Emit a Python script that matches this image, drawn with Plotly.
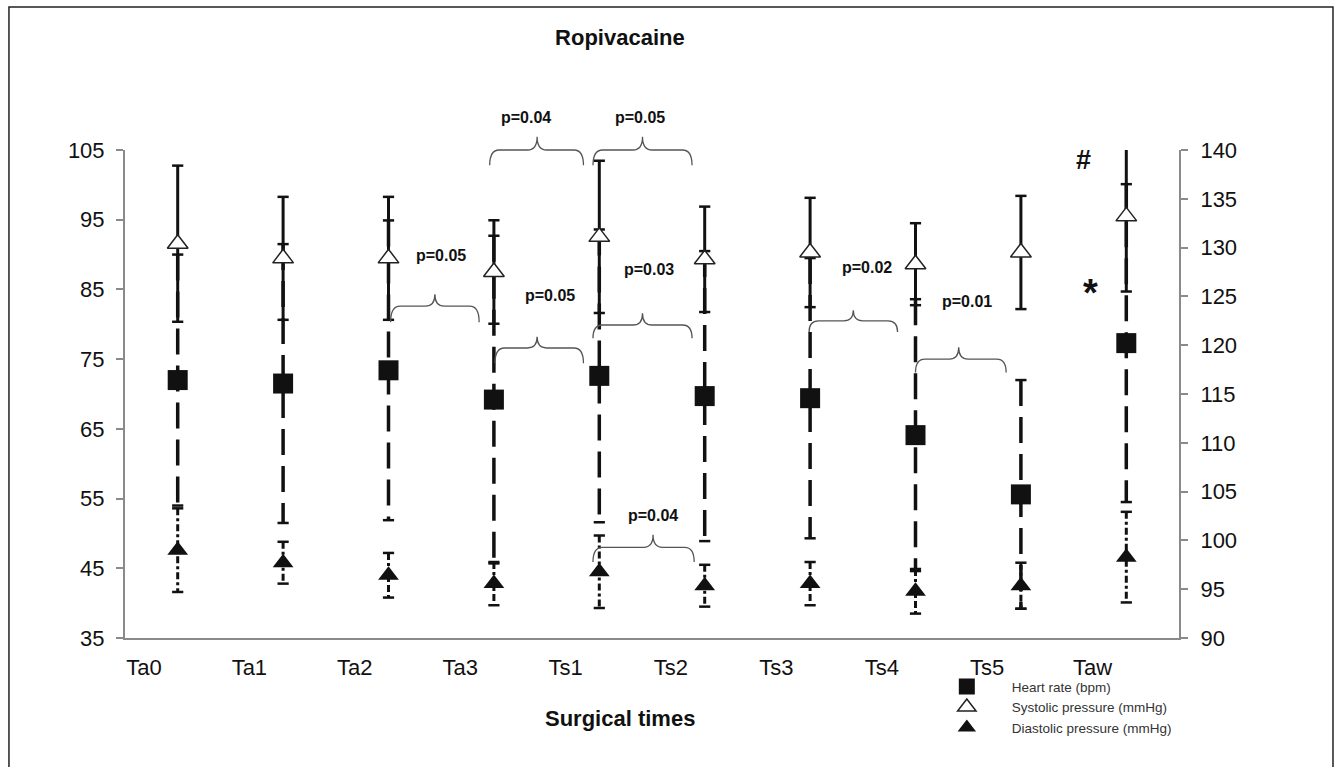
import plotly.graph_objects as go

# ---------------- data ----------------
categories = ["Ta0", "Ta1", "Ta2", "Ta3", "Ts1", "Ts2", "Ts3", "Ts4", "Ts5", "Taw"]

heart_rate = [72.0, 71.5, 73.4, 69.2, 72.6, 69.7, 69.4, 64.1, 55.6, 77.3]
heart_rate_sd = [18.0, 20.0, 21.5, 23.5, 21.0, 20.8, 20.1, 19.5, 16.4, 22.8]

systolic = [130.4, 128.9, 128.9, 127.5, 131.1, 128.8, 129.5, 128.3, 129.5, 133.2]
systolic_sd = [8.0, 6.3, 6.3, 5.3, 7.8, 5.4, 5.6, 4.2, 5.8, 7.7]

diastolic = [47.6, 45.8, 44.0, 42.8, 44.5, 42.5, 42.8, 41.7, 42.5, 46.6]
diastolic_sd = [6.0, 3.0, 3.2, 3.1, 5.2, 3.0, 3.1, 3.2, 3.3, 6.5]

# significance braces: (label, x start, x end, x cusp, y top, y end, y cusp, label x, label y)  (left-axis units)
braces = [
    ("p=0.04", 2.96, 3.85, 3.41, 105.0, 102.8, 106.9, 3.30, 109.6),
    ("p=0.05", 3.94, 4.88, 4.41, 105.0, 102.8, 106.9, 4.39, 109.6),
    ("p=0.05", 2.02, 2.86, 2.44, 82.6, 80.3, 84.3, 2.50, 89.9),
    ("p=0.05", 3.01, 3.85, 3.41, 76.6, 74.4, 78.2, 3.53, 84.2),
    ("p=0.03", 3.94, 4.88, 4.41, 79.9, 78.0, 81.6, 4.47, 87.9),
    ("p=0.04", 3.94, 4.90, 4.51, 48.0, 45.9, 49.8, 4.51, 52.6),
    ("p=0.02", 5.99, 6.83, 6.41, 80.5, 78.9, 82.0, 6.54, 88.2),
    ("p=0.01", 7.00, 7.86, 7.41, 75.0, 73.1, 76.7, 7.49, 83.2),
]

LEFT_RANGE = [35, 105]
RIGHT_RANGE = [90, 140]
FONT = "Liberation Sans, Arial, sans-serif"

xs = list(range(len(categories)))


def ly(v):
    return (v - LEFT_RANGE[0]) / (LEFT_RANGE[1] - LEFT_RANGE[0])


def bar_segments(means, sds):
    bx, by = [], []
    for i, (m, s) in enumerate(zip(means, sds)):
        bx += [i, i, None]
        by += [m + s, m - s, None]
    return bx, by


def caps(means, sds):
    cx, cy = [], []
    for i, (m, s) in enumerate(zip(means, sds)):
        cx += [i, i]
        cy += [m + s, m - s]
    return cx, cy


fig = go.Figure()

# error bars
hx, hy = bar_segments(heart_rate, heart_rate_sd)
fig.add_trace(go.Scatter(x=hx, y=hy, mode="lines", line=dict(color="#111", width=3.5, dash="26px,11px"),
                         showlegend=False, hoverinfo="skip"))
dx, dy = bar_segments(diastolic, diastolic_sd)
fig.add_trace(go.Scatter(x=dx, y=dy, mode="lines", line=dict(color="#111", width=3, dash="7px,3px,3px,3px"),
                         showlegend=False, hoverinfo="skip"))
sx, sy = bar_segments(systolic, systolic_sd)
fig.add_trace(go.Scatter(x=sx, y=sy, mode="lines", line=dict(color="#111", width=3),
                         showlegend=False, hoverinfo="skip", yaxis="y2"))

for means, sds, ax in [(heart_rate, heart_rate_sd, "y"), (diastolic, diastolic_sd, "y"), (systolic, systolic_sd, "y2")]:
    cx, cy = caps(means, sds)
    fig.add_trace(go.Scatter(x=cx, y=cy, mode="markers", yaxis=ax,
                             marker=dict(symbol="line-ew", size=8, line=dict(color="#111", width=2.5)),
                             showlegend=False, hoverinfo="skip"))

# markers
fig.add_trace(go.Scatter(x=xs, y=heart_rate, mode="markers", name="Heart rate (bpm)",
                         marker=dict(symbol="square", size=20, color="#111", line=dict(width=0))))
fig.add_trace(go.Scatter(x=xs, y=systolic, mode="markers", name="Systolic pressure (mmHg)", yaxis="y2",
                         marker=dict(symbol="triangle-up", size=18, color="white", line=dict(color="#222", width=1.5))))
fig.add_trace(go.Scatter(x=xs, y=diastolic, mode="markers", name="Diastolic pressure (mmHg)",
                         marker=dict(symbol="triangle-up", size=18, color="#111", line=dict(width=0))))

# braces and p-values
shapes = []
annotations = []
r = 0.09
for (lab, x0, x1, xc, yt, ye, yc, lx, lyv) in braces:
    t, e, c = ly(yt), ly(ye), ly(yc)
    path = (f"M {x0},{e} Q {x0},{t} {x0 + r},{t} L {xc - r},{t} Q {xc},{t} {xc},{c} "
            f"Q {xc},{t} {xc + r},{t} L {x1 - r},{t} Q {x1},{t} {x1},{e}")
    shapes.append(dict(type="path", path=path, xref="x", yref="paper",
                       line=dict(color="#555", width=1.3)))
    annotations.append(dict(x=lx, y=ly(lyv), xref="x", yref="paper", text=f"<b>{lab}</b>", showarrow=False,
                            font=dict(family=FONT, size=16, color="#111"), xanchor="center", yanchor="middle"))

annotations.append(dict(x=8.59, y=ly(103.6), xref="x", yref="paper", text="<b>#</b>", showarrow=False,
                        font=dict(family=FONT, size=27, color="#111"), xanchor="center", yanchor="middle"))
annotations.append(dict(x=8.66, y=ly(84.5), xref="x", yref="paper", text="<b>*</b>", showarrow=False,
                        font=dict(family=FONT, size=38, color="#111"), xanchor="center", yanchor="middle"))
annotations.append(dict(x=0.4696, y=-0.164, xref="paper", yref="paper", text="<b>Surgical times</b>",
                        showarrow=False, font=dict(family=FONT, size=22, color="#111"),
                        xanchor="center", yanchor="middle"))

# outer frame
shapes.append(dict(type="rect", xref="paper", yref="paper", x0=-0.1101, x1=1.1461, y0=-0.30, y1=1.2930,
                   line=dict(color="#222", width=1.5), fillcolor="rgba(0,0,0,0)", layer="below"))

AXIS_COLOR = "#8a8a8a"
TICK_FONT = dict(family=FONT, size=22, color="#111")
fig.update_layout(
    width=1336, height=767, autosize=False,
    margin=dict(l=125, r=157, t=150, b=129),
    plot_bgcolor="white", paper_bgcolor="white",
    font=dict(family=FONT, color="#111"),
    title=dict(text="<b>Ropivacaine</b>", x=0.464, xanchor="center", y=0.9518, yanchor="middle",
               font=dict(family=FONT, size=22, color="#111")),
    xaxis=dict(range=[-0.5, 9.5], tickmode="array", tickvals=[i - 0.32 for i in xs], ticktext=categories,
               showgrid=False, zeroline=False, showline=True, linecolor=AXIS_COLOR, linewidth=2,
               ticks="", tickfont=TICK_FONT, ticklabelstandoff=9),
    yaxis=dict(range=LEFT_RANGE, tick0=35, dtick=10, showgrid=False, zeroline=False, showline=True,
               linecolor=AXIS_COLOR, linewidth=2, ticks="outside", ticklen=7, tickwidth=1.5, tickcolor=AXIS_COLOR,
               tickfont=TICK_FONT, ticklabelstandoff=7),
    yaxis2=dict(range=RIGHT_RANGE, tick0=90, dtick=5, overlaying="y", side="right", anchor="x",
                showgrid=False, zeroline=False, showline=True, linecolor=AXIS_COLOR, linewidth=2,
                ticks="outside", ticklen=7, tickwidth=1.5, tickcolor=AXIS_COLOR,
                tickfont=TICK_FONT, ticklabelstandoff=8),
    legend=dict(x=0.756, y=-0.068, xanchor="left", yanchor="top", bgcolor="rgba(0,0,0,0)",
                font=dict(family=FONT, size=13.5, color="#333"), itemwidth=80, tracegroupgap=0),
    shapes=shapes, annotations=annotations,
)

fig.write_html("out.html", config={"displayModeBar": False},
               post_script="document.body.style.margin='0';document.body.style.overflow='hidden';")
